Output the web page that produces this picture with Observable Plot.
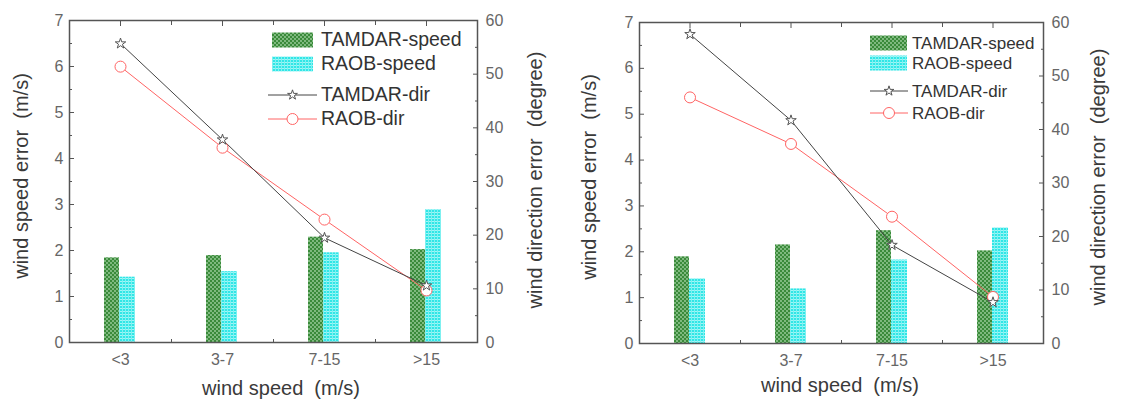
<!DOCTYPE html>
<html><head><meta charset="utf-8">
<script src="https://cdn.jsdelivr.net/npm/d3@7"></script>
<script src="https://cdn.jsdelivr.net/npm/@observablehq/plot@0.6"></script>
<style>
body{margin:0;background:#fff;}
#wrap{position:relative;width:1121px;height:401px;overflow:hidden;font-family:Arial,"Liberation Sans",sans-serif;background:#fff;}
.panel{position:absolute;top:0;}
.t{position:absolute;white-space:pre;color:#3a3a3a;font-size:20px;line-height:1;transform:translate(-50%,-50%);}
.rot{transform:translate(-50%,-50%) rotate(-90deg);}
.lt{position:absolute;white-space:pre;color:#333;line-height:1;transform:translateY(-50%);}
</style></head><body><div id="wrap"></div>
<script>
// ---- data ----
const categories = ["<3", "3-7", "7-15", ">15"];
const leftTamdarSpeed = [1.84, 1.89, 2.29, 2.02];
const leftRaobSpeed   = [1.42, 1.54, 1.95, 2.89];
const leftTamdarDir   = [55.7, 37.8, 19.5, 10.6];
const leftRaobDir     = [51.4, 36.3, 22.9, 9.7];
const rightTamdarSpeed = [1.89, 2.15, 2.46, 2.02];
const rightRaobSpeed   = [1.41, 1.19, 1.82, 2.52];
const rightTamdarDir   = [57.8, 41.7, 18.4, 7.7];
const rightRaobDir     = [46.0, 37.3, 23.7, 8.7];
const speedTicks = [0, 1, 2, 3, 4, 5, 6, 7];
const speedMinor = [0.5, 1.5, 2.5, 3.5, 4.5, 5.5, 6.5];
const dirTicks = [0, 10, 20, 30, 40, 50, 60];
const dirMinor = [5, 15, 25, 35, 45, 55];
const legendLabels = ["TAMDAR-speed", "RAOB-speed", "TAMDAR-dir", "RAOB-dir"];
const xTitle = "wind speed  (m/s)";
const yTitle = "wind speed error  (m/s)";
const y2Title = "wind direction error  (degree)";

const wrap = document.getElementById("wrap");
const FONT = 'Arial, "Liberation Sans", sans-serif';
const GREEN = "url(#gpat)", CYAN = "url(#cpat)";
const GRAY_LINE = "#444", RED_LINE = "#ff6464", AXIS = "#555";

// pattern defs
const defsSvg = d3.select(wrap).append("svg").attr("width", 0).attr("height", 0)
  .style("position", "absolute");
const defs = defsSvg.append("defs");
const gp = defs.append("pattern").attr("id", "gpat").attr("patternUnits", "userSpaceOnUse")
  .attr("width", 4).attr("height", 4);
gp.append("rect").attr("width", 4).attr("height", 4).attr("fill", "#3a8a3a");
gp.append("circle").attr("cx", 1).attr("cy", 1).attr("r", 0.9).attr("fill", "#9fd09f");
gp.append("circle").attr("cx", 3).attr("cy", 3).attr("r", 0.9).attr("fill", "#9fd09f");
const cp = defs.append("pattern").attr("id", "cpat").attr("patternUnits", "userSpaceOnUse")
  .attr("width", 3).attr("height", 3);
cp.append("rect").attr("width", 3).attr("height", 3).attr("fill", "#30e6e6");
cp.append("rect").attr("y", 2).attr("width", 3).attr("height", 1).attr("fill", "#9ff6f6");
cp.append("rect").attr("x", 2).attr("width", 1).attr("height", 3).attr("fill", "#7ff0f0");

function panel(o) {
  const rows = categories.map((c, i) => ({cat: c, ts: o.ts[i], rs: o.rs[i], td: o.td[i], rd: o.rd[i]}));
  const k = 7 / 60; // degree -> speed-axis units
  const bw = (o.width - o.ml - o.mr) / categories.length;
  const svg = Plot.plot({
    width: o.width, height: 401,
    marginLeft: o.ml, marginRight: o.mr, marginTop: o.mt, marginBottom: o.mb,
    style: {fontFamily: FONT, fontSize: "16px", color: "#666", background: "transparent", overflow: "visible"},
    x: {type: "band", domain: categories, padding: 0, axis: null, label: null},
    y: {domain: [0, 7], axis: null, label: null},
    marks: [
      Plot.barY(rows, {x: "cat", y: "ts", fill: GREEN, insetLeft: 35, insetRight: bw - 50}),
      Plot.barY(rows, {x: "cat", y: "rs", fill: CYAN, insetLeft: 50, insetRight: bw - 66}),
      Plot.line(rows, {x: "cat", y: d => d.rd * k, stroke: RED_LINE, strokeWidth: 1}),
      Plot.line(rows, {x: "cat", y: d => d.td * k, stroke: GRAY_LINE, strokeWidth: 1}),
      Plot.dot(rows, {x: "cat", y: d => d.rd * k, r: 5.5, stroke: RED_LINE, fill: "white", strokeWidth: 1}),
      Plot.dot(rows, {x: "cat", y: d => d.td * k, symbol: "star", r: 3.3, stroke: "#555", fill: "white", strokeWidth: 1}),
      Plot.frame({stroke: AXIS, strokeWidth: 1.5}),
      Plot.axisY(speedTicks, {anchor: "left", tickSize: -5, tickPadding: 11, stroke: AXIS, fill: "#666", label: null}),
      Plot.axisY(speedMinor, {anchor: "left", tickSize: -3, stroke: AXIS, fill: "none", label: null}),
      Plot.axisY(dirTicks.map(v => v * k), {anchor: "right", tickSize: -5, tickPadding: 13, stroke: AXIS, fill: "#666",
        tickFormat: v => String(Math.round(v / k)), label: null}),
      Plot.axisY(dirMinor.map(v => v * k), {anchor: "right", tickSize: -3, stroke: AXIS, fill: "none", label: null}),
      Plot.axisX(categories, {anchor: "bottom", tickSize: 0, tickPadding: 11, fill: "#666", label: null}),
      Plot.axisX(categories, {anchor: "top", tickSize: -5, stroke: AXIS, fill: "none", label: null}),
      Plot.axisX(categories.slice(0, 3), {anchor: "bottom", tickSize: -3, dx: bw / 2, stroke: AXIS, fill: "none", label: null}),
      Plot.axisX(categories.slice(0, 3), {anchor: "top", tickSize: -4, dx: bw / 2, stroke: AXIS, fill: "none", label: null})
    ]
  });
  svg.classList.add("panel");
  svg.style.left = o.left + "px";
  wrap.appendChild(svg);

  // titles
  const addT = (txt, x, y, rot) => {
    const d = document.createElement("div");
    d.className = "t" + (rot ? " rot" : "");
    d.textContent = txt;
    d.style.left = x + "px"; d.style.top = y + "px";
    wrap.appendChild(d);
  };
  addT(xTitle, o.xt[0], o.xt[1], false);
  addT(yTitle, o.yt[0], o.yt[1], true);
  addT(y2Title, o.y2t[0], o.y2t[1], true);

  // legend
  const L = o.leg;
  const lsvg = d3.select(wrap).append("svg").attr("width", 1121).attr("height", 401)
    .style("position", "absolute").style("left", 0).style("top", 0).style("pointer-events", "none");
  lsvg.append("rect").attr("x", L.sx).attr("y", L.ys[0] - L.sh / 2).attr("width", L.sw).attr("height", L.sh).attr("fill", GREEN);
  lsvg.append("rect").attr("x", L.sx).attr("y", L.ys[1] - L.sh / 2).attr("width", L.sw).attr("height", L.sh).attr("fill", CYAN);
  lsvg.append("line").attr("x1", L.lx0).attr("x2", L.lx1).attr("y1", L.ys[2]).attr("y2", L.ys[2]).attr("stroke", GRAY_LINE);
  lsvg.append("path").attr("d", d3.symbol(d3.symbolStar, 30)()).attr("transform", `translate(${(L.lx0 + L.lx1) / 2},${L.ys[2]})`)
    .attr("fill", "white").attr("stroke", "#555");
  lsvg.append("line").attr("x1", L.lx0).attr("x2", L.lx1).attr("y1", L.ys[3]).attr("y2", L.ys[3]).attr("stroke", RED_LINE);
  lsvg.append("circle").attr("cx", (L.lx0 + L.lx1) / 2).attr("cy", L.ys[3]).attr("r", 5.5).attr("fill", "white").attr("stroke", RED_LINE);
  legendLabels.forEach((lab, i) => {
    const d = document.createElement("div");
    d.className = "lt";
    d.textContent = lab;
    d.style.left = L.tx + "px"; d.style.top = L.ys[i] + "px"; d.style.fontSize = L.fs + "px";
    wrap.appendChild(d);
  });
}

panel({
  left: 0, width: 560, ml: 69, mr: 83, mt: 20, mb: 59,
  ts: leftTamdarSpeed, rs: leftRaobSpeed, td: leftTamdarDir, rd: leftRaobDir,
  xt: [281, 388], yt: [21, 176], y2t: [535, 180],
  leg: {sx: 272, sw: 41, sh: 15, lx0: 268, lx1: 317, tx: 321, fs: 19.5, ys: [40, 64, 95, 119]}
});
panel({
  left: 560, width: 561, ml: 79, mr: 78, mt: 22, mb: 58,
  ts: rightTamdarSpeed, rs: rightRaobSpeed, td: rightTamdarDir, rd: rightRaobDir,
  xt: [840, 385], yt: [589, 177], y2t: [1098, 177],
  leg: {sx: 870, sw: 37, sh: 15, lx0: 870, lx1: 908, tx: 912, fs: 17, ys: [43, 63, 91, 113]}
});
</script></body></html>
